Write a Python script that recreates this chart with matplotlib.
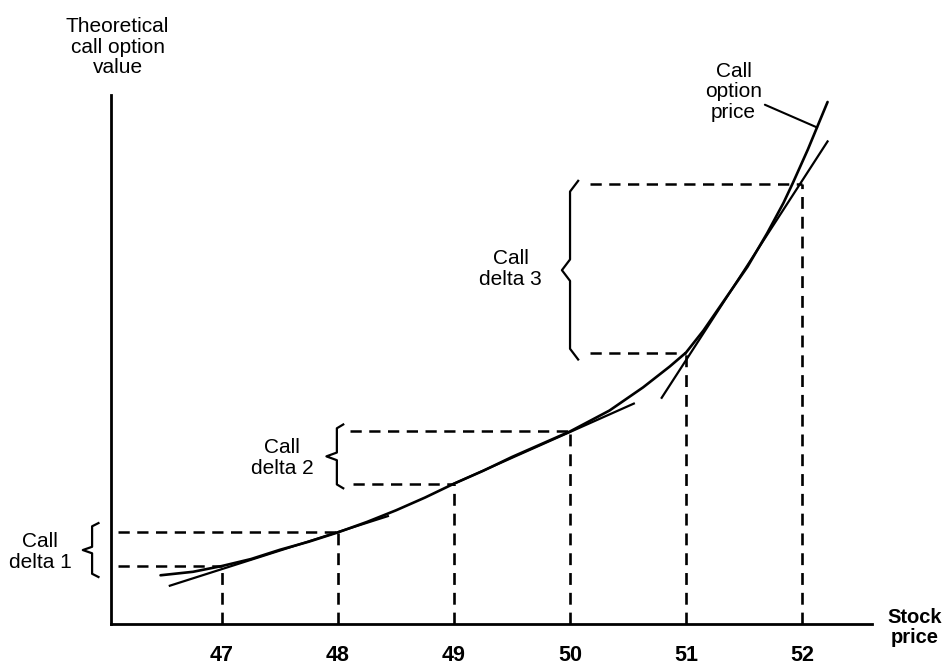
import numpy as np
import matplotlib.pyplot as plt

plt.rcParams['font.family'] = ['Liberation Sans', 'DejaVu Sans']

# curve (stock price, theoretical call value)
curve_x = [46.47, 46.75, 47.0, 47.25, 47.5, 47.75, 48.0, 48.25, 48.5, 48.75, 49.0,
           49.25, 49.5, 49.75, 50.0, 50.34, 50.63, 50.86, 51.0, 51.15, 51.35,
           51.53, 51.70, 51.84, 51.92, 52.05, 52.22]
curve_y = [0.42, 0.45, 0.50, 0.56, 0.64, 0.71, 0.79, 0.88, 0.98, 1.09, 1.21,
           1.32, 1.44, 1.55, 1.66, 1.84, 2.04, 2.22, 2.34, 2.53, 2.82,
           3.08, 3.37, 3.63, 3.80, 4.09, 4.50]

# marked stock prices and the value at each
strikes = [47, 48, 49, 50, 51, 52]
strike_vals = [0.50, 0.79, 1.21, 1.66, 2.34, 3.79]
# where each horizontal dashed line starts
hline_start = [46.10, 46.10, 48.13, 48.10, 50.17, 50.17]

# tangent lines (x0, y0, x1, y1)
tangents = [
    (46.55, 0.33, 48.43, 0.93),
    (49.00, 1.21, 50.55, 1.90),
    (50.79, 1.95, 52.22, 4.16),
]

fig = plt.figure(figsize=(9.45, 6.67), dpi=100)
ax = fig.add_axes([111 / 945, 43 / 667, 761 / 945, 529 / 667])
ax.set_xlim(46.043, 52.603)
ax.set_ylim(0, 4.56)
for s in ['top', 'right']:
    ax.spines[s].set_visible(False)
for s in ['left', 'bottom']:
    ax.spines[s].set_linewidth(2.0)
ax.set_yticks([])
ax.set_xticks(strikes)
ax.set_xticklabels([str(s) for s in strikes], fontsize=15.5, fontweight='bold')
ax.tick_params(axis='x', length=0, pad=15)

dash = (0, (4.5, 3))
for k, v, x0 in zip(strikes, strike_vals, hline_start):
    ax.plot([x0, k], [v, v], color='black', lw=1.8, ls=dash)
    ax.plot([k, k], [0, v], color='black', lw=1.9, ls=dash)

ax.plot(curve_x, curve_y, color='black', lw=1.9, solid_capstyle='round',
        solid_joinstyle='round')
for x0, y0, x1, y1 in tangents:
    ax.plot([x0, x1], [y0, y1], color='black', lw=1.6)


def brace(x, y0, y1, tip, hook):
    ym = (y0 + y1) / 2
    d = (y1 - y0) * 0.06
    xs = [x + hook, x, x, tip, x, x, x + hook]
    ys = [y1, y1 - d, ym + d, ym, ym - d, y0 + d, y0]
    ax.plot(xs, ys, color='black', lw=1.6, clip_on=False)


brace(45.88, 0.405, 0.87, 45.80, 0.055)
brace(47.99, 1.17, 1.72, 47.90, 0.055)
brace(50.00, 2.28, 3.82, 49.93, 0.07)

txt = dict(fontsize=15, ha='center', va='center', linespacing=1.1)
ax.text(45.43, 0.62, 'Call\ndelta 1', clip_on=False, **txt)
ax.text(47.52, 1.43, 'Call\ndelta 2', **txt)
ax.text(49.49, 3.06, 'Call\ndelta 3', **txt)
ax.text(46.10, 4.97, 'Theoretical\ncall option\nvalue', clip_on=False, **txt)
ax.annotate('Call\noption\nprice', xy=(52.13, 4.28), xytext=(51.41, 4.59),
            annotation_clip=False,
            arrowprops=dict(arrowstyle='-', color='black', lw=1.5,
                            shrinkA=0, shrinkB=0, relpos=(1.0, 0.3)),
            **txt)
ax.text(52.97, -0.03, 'Stock\nprice', fontsize=14.5, fontweight='bold',
        ha='center', va='center', linespacing=1.1, clip_on=False)

fig.savefig('out.png', dpi=100)
